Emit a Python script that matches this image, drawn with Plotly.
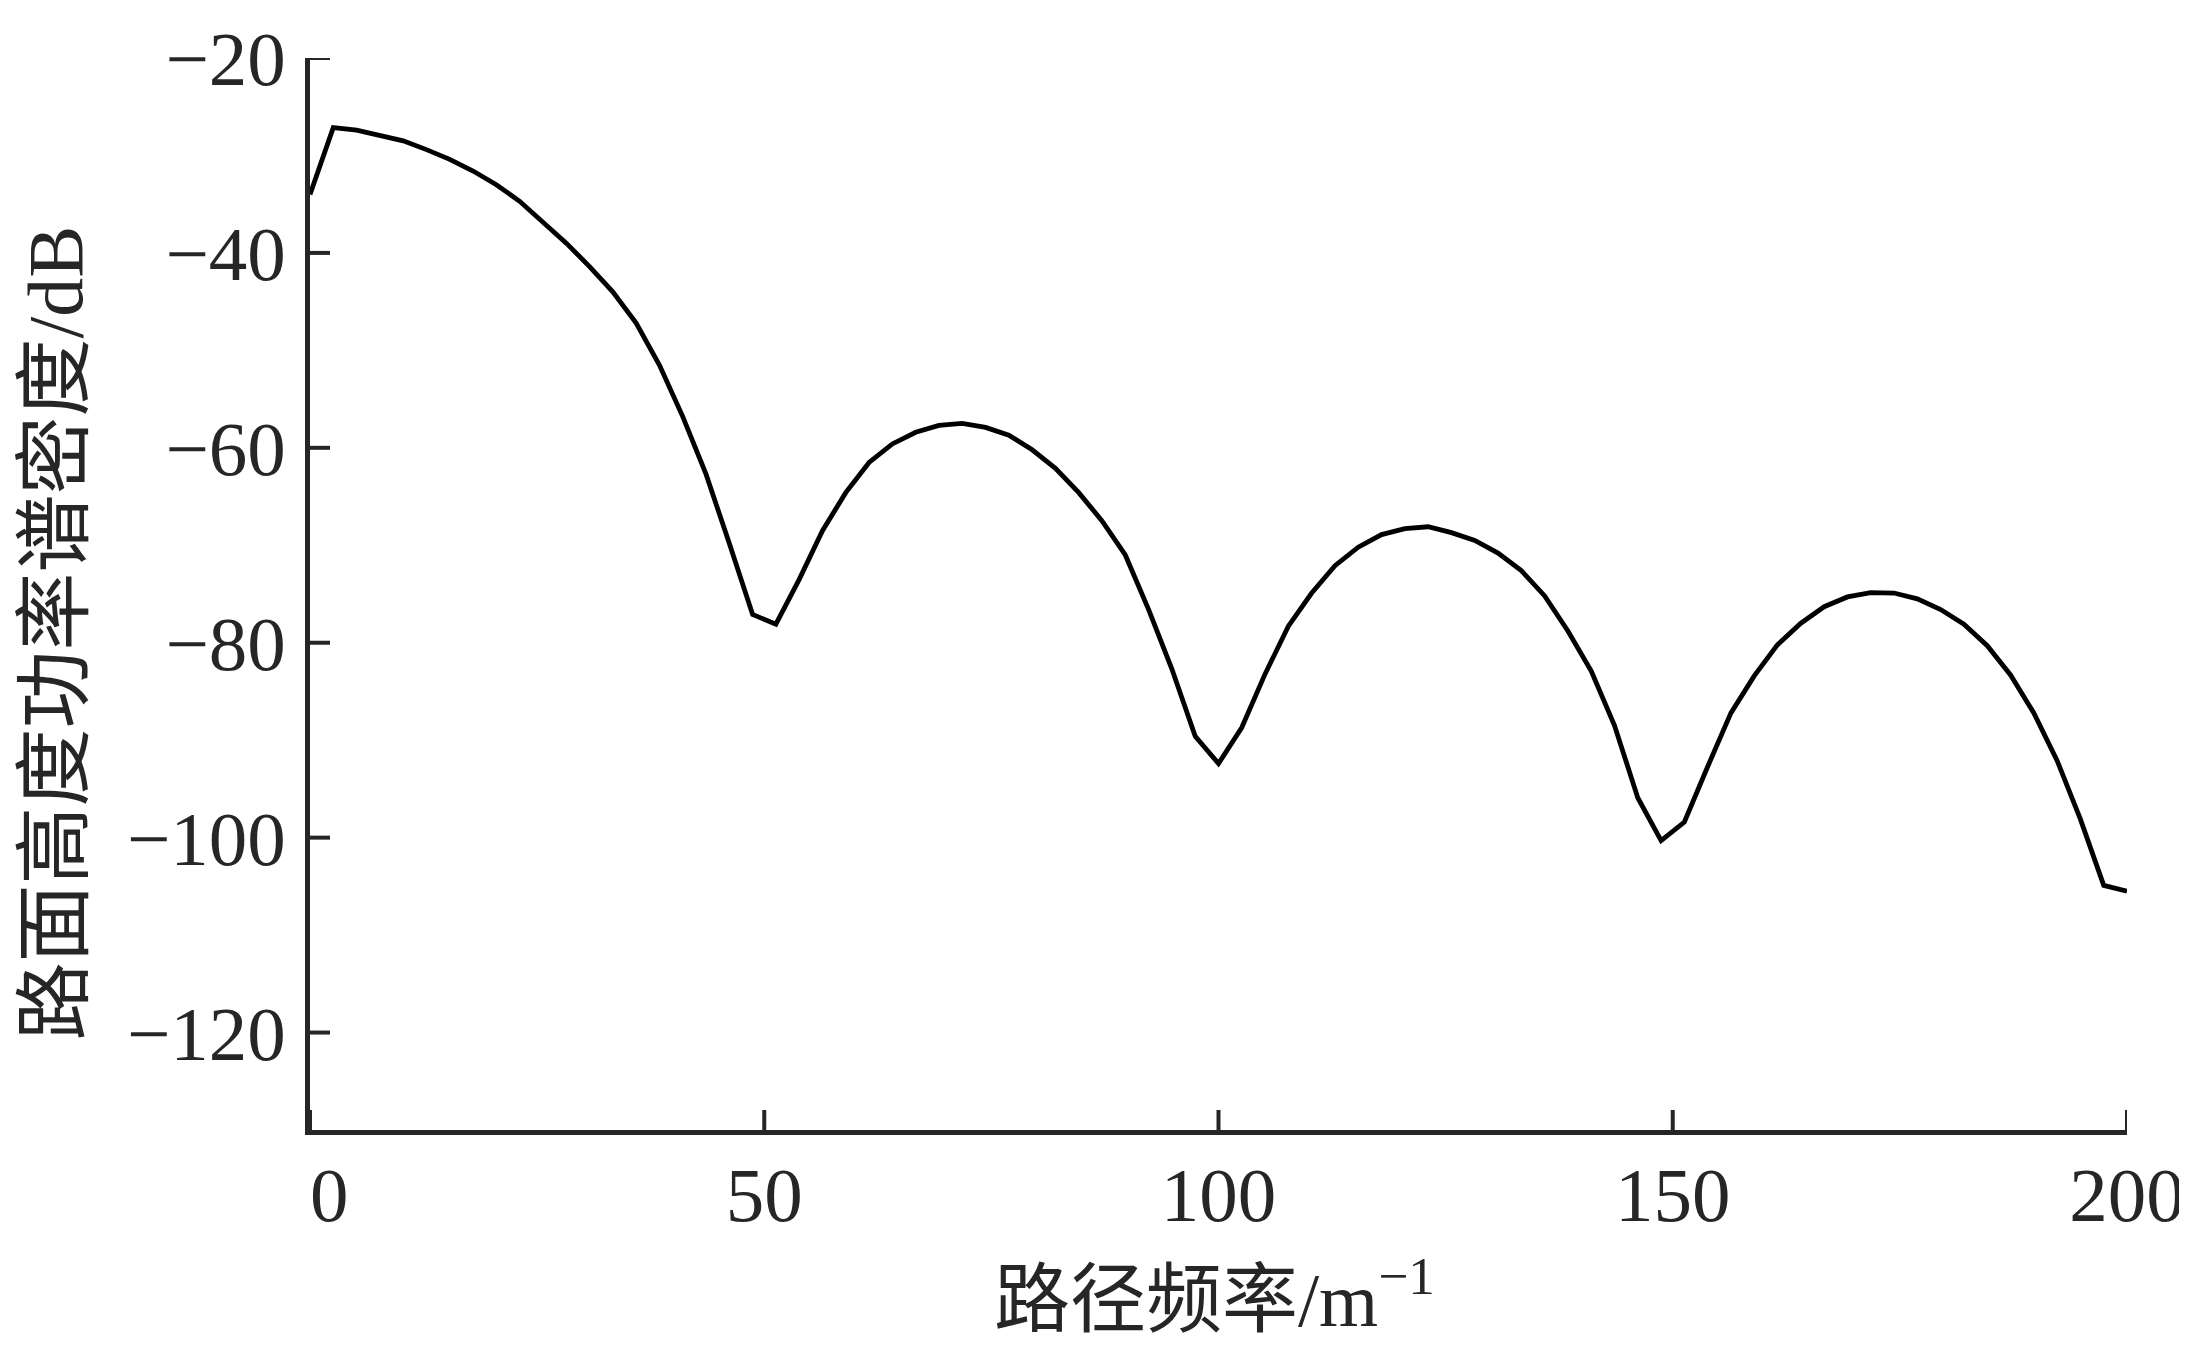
import plotly.graph_objects as go

# Path frequency samples (m^-1)
freq = [0.0, 2.56, 5.13, 7.69, 10.26, 12.82, 15.38, 17.95, 20.51, 23.08,
        25.64, 28.21, 30.77, 33.33, 35.90, 38.46, 41.03, 43.59, 46.15, 48.72,
        51.28, 53.85, 56.41, 58.97, 61.54, 64.10, 66.67, 69.23, 71.79, 74.36,
        76.92, 79.49, 82.05, 84.62, 87.18, 89.74, 92.31, 94.87, 97.44, 100.0,
        102.56, 105.13, 107.69, 110.26, 112.82, 115.38, 117.95, 120.51, 123.08, 125.64,
        128.21, 130.77, 133.33, 135.90, 138.46, 141.03, 143.59, 146.15, 148.72, 151.28,
        153.85, 156.41, 158.97, 161.54, 164.10, 166.67, 169.23, 171.79, 174.36, 176.92,
        179.49, 182.05, 184.62, 187.18, 189.74, 192.31, 194.87, 197.44, 200.0]

# Road roughness PSD (dB)
psd = [-34.0, -27.15, -27.4, -27.9, -28.5, -29.4, -30.4, -31.6, -33.0, -34.7,
       -36.8, -39.0, -41.4, -44.0, -47.2, -51.5, -56.8, -62.7, -69.8, -77.1,
       -78.1, -73.5, -68.5, -64.6, -61.5, -59.6, -58.4, -57.7, -57.5, -57.9,
       -58.7, -60.2, -62.1, -64.6, -67.5, -71.0, -76.6, -82.7, -89.6, -92.4,
       -88.7, -83.2, -78.3, -74.9, -72.1, -70.2, -68.9, -68.3, -68.1, -68.7,
       -69.5, -70.8, -72.6, -75.2, -78.8, -82.9, -88.5, -95.9, -100.3, -98.4,
       -92.7, -87.2, -83.4, -80.2, -78.0, -76.3, -75.3, -74.85, -74.9, -75.5,
       -76.6, -78.1, -80.3, -83.3, -87.2, -92.1, -98.1, -104.9, -105.5]

x_ticks = [0, 50, 100, 150, 200]
x_tick_text = ["\u00a0\u00a00", "50", "100", "150", "200"]
y_ticks = [-20, -40, -60, -80, -100, -120]
y_tick_text = ["−20", "−40", "−60", "−80", "−100", "−120"]
x_range = [0, 200]
y_range = [-130, -20]

x_title = "路径频率/m<sup>−1</sup>"
y_title = "路面高度功率谱密度/dB"

axis_color = "#262626"
font_family = "Liberation Serif, Noto Sans CJK SC, serif"

FIG_W, FIG_H = 2179, 1337
M_L, M_R, M_T, M_B = 302, 60, 50, 215
PLOT_W = FIG_W - M_L - M_R
PLOT_H = FIG_H - M_T - M_B
TICK_LEN = 20
TICK_W = 4

fig = go.Figure()
fig.add_trace(go.Scatter(
    x=freq, y=psd, mode="lines",
    line=dict(color="black", width=4.8),
    showlegend=False, hoverinfo="skip",
))

# inward x-axis tick marks drawn as a line trace (length converted from pixels)
tick_len_y = TICK_LEN * (y_range[1] - y_range[0]) / PLOT_H
tx, ty = [], []
for v in x_ticks:
    tx += [v, v, None]
    ty += [y_range[0], y_range[0] + tick_len_y, None]
fig.add_trace(go.Scatter(
    x=tx, y=ty, mode="lines", line=dict(color=axis_color, width=TICK_W),
    showlegend=False, hoverinfo="skip", cliponaxis=False,
))

# inward y-axis tick marks
shapes = []
for v in y_ticks:
    shapes.append(dict(type="line", xref="paper", yref="y",
                       x0=0, x1=TICK_LEN / PLOT_W, y0=v, y1=v,
                       line=dict(color=axis_color, width=TICK_W), layer="above"))

fig.update_layout(
    width=FIG_W, height=FIG_H,
    margin=dict(l=M_L, r=M_R, t=M_T, b=M_B, pad=0, autoexpand=False),
    paper_bgcolor="white", plot_bgcolor="white",
    font=dict(family=font_family, size=77, color=axis_color),
    showlegend=False,
    shapes=shapes,
    xaxis=dict(
        range=x_range, tickvals=x_ticks, ticktext=x_tick_text,
        showline=True, linecolor=axis_color, linewidth=4.5,
        ticks="", showgrid=False, zeroline=False, automargin=False,
        tickfont=dict(family=font_family, size=77, color=axis_color),
        ticklabelstandoff=-6,
    ),
    yaxis=dict(
        range=y_range, tickvals=y_ticks, ticktext=y_tick_text,
        showline=True, linecolor=axis_color, linewidth=4.5,
        ticks="", showgrid=False, zeroline=False, automargin=False,
        tickfont=dict(family=font_family, size=77, color=axis_color),
        ticklabelstandoff=4,
    ),
    annotations=[
        dict(text=x_title, xref="paper", yref="paper", x=0.498, y=-0.153,
             xanchor="center", yanchor="middle", showarrow=False,
             font=dict(family=font_family, size=76, color=axis_color)),
        dict(text=y_title, xref="paper", yref="paper", x=-0.140, y=0.4638,
             xanchor="center", yanchor="middle", showarrow=False, textangle=-90,
             font=dict(family=font_family, size=78, color=axis_color)),
    ],
)

fig.write_html("out.html")
